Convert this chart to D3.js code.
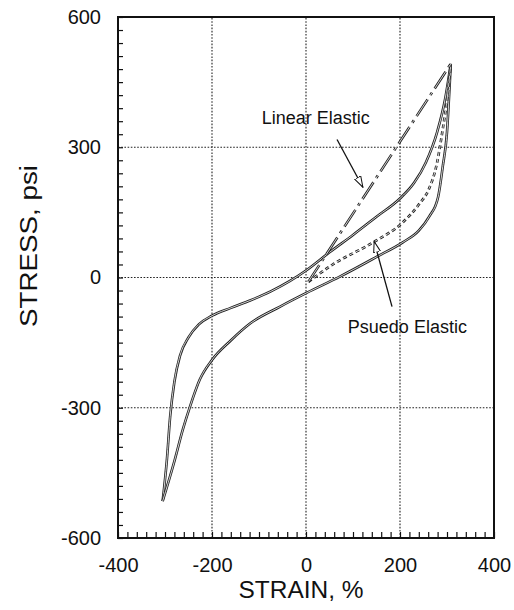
<!DOCTYPE html>
<html>
<head>
<meta charset="utf-8">
<script src="https://cdn.jsdelivr.net/npm/d3@7"></script>
<style>
  body { margin: 0; background: #fff; }
  svg text { font-family: "Liberation Sans", Arial, Helvetica, sans-serif; fill: #111; }
</style>
</head>
<body>
<div id="chart"></div>
<script>
// hysteresis loop: [strain %, stress psi], strain ascending
var upperBranch = [[-305,-515],[-296,-420],[-289,-320],[-280,-240],[-268,-180],[-250,-138],[-228,-108],[-200,-88],
  [-160,-70],[-119,-53],[-75,-32],[-34,-8],[0,16],[50,58],[100,98],[150,140],[200,182],[230,218],[255,265],
  [279,335],[296,411],[308,492]];
var lowerBranch = [[-305,-515],[-281,-427],[-262,-350],[-247,-298],[-226,-235],[-200,-190],[-160,-145],[-119,-106],
  [-55,-67],[2,-35],[72,2],[151,48],[206,81],[240,108],[262,140],[281,185],[291,256],[300,335],[306,450],[308,492]];
var pseudoElastic = [[5,-10],[57,30],[143,81],[206,127],[240,168],[262,205],[278,260],[290,335],[302,427],[308,492]];
var linearElastic = [[5,-10],[308,492]];

var xMajor = [-400,-200,0,200,400];
var yMajor = [-600,-300,0,300,600];
var xMinor = d3.range(-400,401,20);
var yMinor = d3.range(-600,601,30);

// annotation anchors in data units
var linearNote = {label:'Linear Elastic', tx:-94, ty:353, from:[66,318], to:[121,208]};
var pseudoNote = {label:'Psuedo Elastic', tx:89, ty:-127, from:[183,-67], to:[145,83]};

var W = 514, H = 610;
var margin = {top:17, right:20, bottom:72, left:118};

var svg = d3.select('#chart').append('svg').attr('width',W).attr('height',H);

var x = d3.scaleLinear().domain([-400,400]).range([margin.left, W-margin.right]);
var y = d3.scaleLinear().domain([-600,600]).range([H-margin.bottom, margin.top]);
var plain = function(d){ return String(d); };   // keep ascii hyphen for negatives

// grid, dotted
var grid = svg.append('g').attr('stroke','#222').attr('stroke-width',1.1).attr('stroke-dasharray','1.6,1.6');
grid.selectAll('.gx').data(xMajor.slice(1,-1)).enter().append('line')
  .attr('x1',function(d){return x(d);}).attr('x2',function(d){return x(d);})
  .attr('y1',y(-600)).attr('y2',y(600));
grid.selectAll('.gy').data(yMajor.slice(1,-1)).enter().append('line')
  .attr('x1',x(-400)).attr('x2',x(400))
  .attr('y1',function(d){return y(d);}).attr('y2',function(d){return y(d);});

// minor ticks, inward
svg.append('g').attr('transform','translate('+x(-400)+',0)')
  .call(d3.axisLeft(y).tickValues(yMinor).tickSize(-5).tickFormat(''))
  .call(function(g){ g.select('.domain').remove(); g.selectAll('line').attr('stroke','#111').attr('stroke-width',1.2); });
svg.append('g').attr('transform','translate(0,'+y(-600)+')')
  .call(d3.axisBottom(x).tickValues(xMinor).tickSize(-6).tickFormat(''))
  .call(function(g){ g.select('.domain').remove(); g.selectAll('line').attr('stroke','#111').attr('stroke-width',1.2); });

// tick labels
svg.append('g').attr('transform','translate('+x(-400)+',0)')
  .call(d3.axisLeft(y).tickValues(yMajor).tickSize(0).tickPadding(17).tickFormat(plain))
  .call(function(g){ g.select('.domain').remove(); g.selectAll('text').attr('font-size',20).attr('font-family',null); });
svg.append('g').attr('transform','translate(0,'+y(-600)+')')
  .call(d3.axisBottom(x).tickValues(xMajor).tickSize(0).tickPadding(20).tickFormat(plain))
  .call(function(g){ g.select('.domain').remove(); g.selectAll('text').attr('font-size',20).attr('font-family',null); });

// frame
svg.append('rect').attr('x',x(-400)).attr('y',y(600))
  .attr('width',x(400)-x(-400)).attr('height',y(-600)-y(600))
  .attr('fill','none').attr('stroke','#111').attr('stroke-width',2);

// curves drawn as hollow double lines
var line = d3.line().x(function(d){return x(d[0]);}).y(function(d){return y(d[1]);}).curve(d3.curveMonotoneX);
var straight = d3.line().x(function(d){return x(d[0]);}).y(function(d){return y(d[1]);});

function hollow(pathData, dash) {
  var g = svg.append('g').attr('fill','none');
  g.append('path').attr('d',pathData).attr('stroke','#222').attr('stroke-width',2.6)
    .attr('stroke-dasharray',dash);
  g.append('path').attr('d',pathData).attr('stroke','#fff').attr('stroke-width',0.8)
    .attr('stroke-dasharray',dash);
}
hollow(line(upperBranch), null);
hollow(line(lowerBranch), null);
hollow(line(pseudoElastic), '4,3');
hollow(straight(linearElastic), '20,5,3,5');

// arrows
var defs = svg.append('defs');
defs.append('marker').attr('id','openArrow').attr('viewBox','0 0 12 8')
  .attr('refX',11).attr('refY',4).attr('markerWidth',12).attr('markerHeight',8)
  .attr('markerUnits','userSpaceOnUse').attr('orient','auto')
  .append('path').attr('d','M0,0.5L11,4L0,7.5Z').attr('fill','#fff').attr('stroke','#111').attr('stroke-width',1);

[linearNote, pseudoNote].forEach(function(n){
  svg.append('line')
    .attr('x1',x(n.from[0])).attr('y1',y(n.from[1]))
    .attr('x2',x(n.to[0])).attr('y2',y(n.to[1]))
    .attr('stroke','#111').attr('stroke-width',1.3)
    .attr('marker-end','url(#openArrow)');
  svg.append('text').attr('x',x(n.tx)).attr('y',y(n.ty))
    .attr('font-size',18).text(n.label);
});

// axis titles
svg.append('text').attr('x',(x(-400)+x(400))/2 - 5).attr('y',598)
  .attr('text-anchor','middle').attr('font-size',23)
  .attr('textLength',125).attr('lengthAdjust','spacingAndGlyphs')
  .text('STRAIN, %');
svg.append('text').attr('transform','translate(37,246)rotate(-90)')
  .attr('text-anchor','middle').attr('font-size',23)
  .attr('textLength',162).attr('lengthAdjust','spacingAndGlyphs')
  .text('STRESS, psi');
</script>
</body>
</html>
